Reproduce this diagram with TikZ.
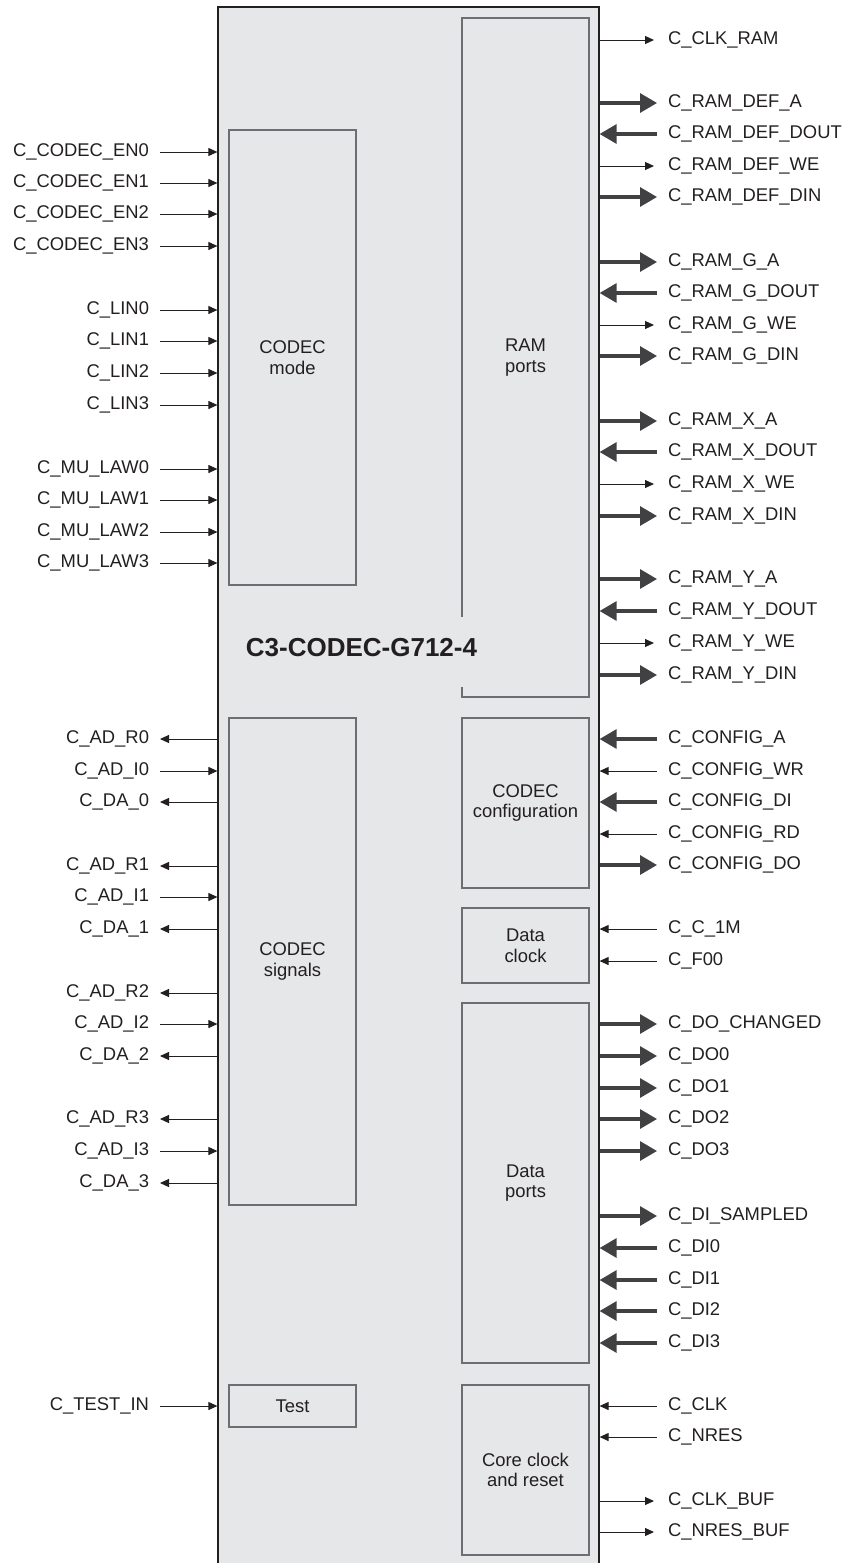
\documentclass[tikz,border=0pt]{standalone}
\usepackage{fontspec}
\setmainfont{Liberation Sans}
\usetikzlibrary{arrows.meta}
\definecolor{bg}{HTML}{E6E7E8}
\definecolor{bord}{HTML}{6D6E71}
\definecolor{ink}{HTML}{231F20}
\definecolor{thk}{HTML}{414042}
\begin{document}
\begin{tikzpicture}[x=0.75pt,y=-0.75pt,
  lbl/.style={inner sep=0pt, outer sep=0pt, text height=0.716em, text depth=0pt,
    font=\fontsize{13.8}{15.5}\selectfont, text=ink},
  blk/.style={draw=bord, line width=1.1pt, fill=bg, align=center, inner sep=0pt,
    minimum width=95.25pt, font=\fontsize{13.8}{15.5}\selectfont, text=ink},
  sigthin/.style={draw=ink, line width=0.75pt},
  sigthick/.style={draw=thk, line width=2.4pt},
  smalltip/.tip={Triangle[length=6.75pt,width=6pt]},
  bigtip/.tip={Triangle[length=12.75pt,width=14.25pt]},
  R-to/.style={sigthin, -smalltip, shorten >=2.25pt},
  R-ti/.style={sigthin, smalltip-},
  R-Bo/.style={sigthick, -bigtip},
  R-Bi/.style={sigthick, bigtip-},
  L-i/.style={sigthin, smalltip-},
  L-o/.style={sigthin, -smalltip},
]
\useasboundingbox (0,0) rectangle (848,1563);
\clip (0,0) rectangle (848,1563);

% outer chip box (bottom edge lies outside the picture)
\node[draw=ink, line width=0.9pt, fill=bg, inner sep=0pt,
      minimum width=285.75pt, minimum height=1187.25pt] (chip) at (408.5,798.5) {};

% inner blocks
\node[blk, minimum height=341.25pt] (mode) at (292.5,357.5) {CODEC\\mode};
\node[blk, minimum height=509.25pt] (ram) at (525.5,357.5) {RAM\\ports};
\node[blk, minimum height=365.25pt] (sig) at (292.5,961.5) {CODEC\\signals};
\node[blk, minimum height=127.5pt] (cfg) at (525.5,803) {CODEC\\configuration};
\node[blk, minimum height=56.25pt] (dclk) at (525.5,945.5) {Data\\clock};
\node[blk, minimum height=270pt] (dport) at (525.5,1183) {Data\\ports};
\node[blk, minimum height=31.5pt] (test) at (292.5,1406) {Test};
\node[blk, minimum height=127.5pt] (core) at (525.5,1470) {Core clock\\and reset};

% title (covers part of the RAM block border)
\node[fill=bg, inner xsep=1.5pt, inner ysep=0pt, minimum height=52.5pt,
      text height=0.716em, text depth=0pt,
      font=\bfseries\fontsize{19.5}{21}\selectfont, text=ink] (title) at (361.5,652) {C3-CODEC-G712-4};

% right-side signals
\foreach \n/\y/\t/\k in {
  1/40/C\_CLK\_RAM/to,
  2/103/C\_RAM\_DEF\_A/Bo, 3/134/C\_RAM\_DEF\_DOUT/Bi, 4/166/C\_RAM\_DEF\_WE/to, 5/197/C\_RAM\_DEF\_DIN/Bo,
  6/262/C\_RAM\_G\_A/Bo, 7/293/C\_RAM\_G\_DOUT/Bi, 8/325/C\_RAM\_G\_WE/to, 9/356/C\_RAM\_G\_DIN/Bo,
  10/421/C\_RAM\_X\_A/Bo, 11/452/C\_RAM\_X\_DOUT/Bi, 12/484/C\_RAM\_X\_WE/to, 13/516/C\_RAM\_X\_DIN/Bo,
  14/579/C\_RAM\_Y\_A/Bo, 15/611/C\_RAM\_Y\_DOUT/Bi, 16/643/C\_RAM\_Y\_WE/to, 17/675/C\_RAM\_Y\_DIN/Bo,
  18/739/C\_CONFIG\_A/Bi, 19/771/C\_CONFIG\_WR/ti, 20/802/C\_CONFIG\_DI/Bi, 21/834/C\_CONFIG\_RD/ti, 22/865/C\_CONFIG\_DO/Bo,
  23/929/C\_C\_1M/ti, 24/961/C\_F00/ti,
  25/1024/C\_DO\_CHANGED/Bo, 26/1056/C\_DO0/Bo, 27/1088/C\_DO1/Bo, 28/1119/C\_DO2/Bo, 29/1151/C\_DO3/Bo,
  30/1216/C\_DI\_SAMPLED/Bo, 31/1248/C\_DI0/Bi, 32/1280/C\_DI1/Bi, 33/1311/C\_DI2/Bi, 34/1343/C\_DI3/Bi,
  35/1406/C\_CLK/ti, 36/1437/C\_NRES/ti, 37/1501/C\_CLK\_BUF/to, 38/1532/C\_NRES\_BUF/to}
{
  \node[lbl, anchor=west] (r\n) at (668,\y) {\t};
  \draw[R-\k] (chip.east |- r\n.west) -- ([xshift=-8.25pt]r\n.west);
}

% left-side signals
\foreach \n/\y/\t/\k in {
  1/152/C\_CODEC\_EN0/i, 2/183/C\_CODEC\_EN1/i, 3/214/C\_CODEC\_EN2/i, 4/246/C\_CODEC\_EN3/i,
  5/310/C\_LIN0/i, 6/341/C\_LIN1/i, 7/373/C\_LIN2/i, 8/405/C\_LIN3/i,
  9/469/C\_MU\_LAW0/i, 10/500/C\_MU\_LAW1/i, 11/532/C\_MU\_LAW2/i, 12/563/C\_MU\_LAW3/i,
  13/739/C\_AD\_R0/o, 14/771/C\_AD\_I0/i, 15/802/C\_DA\_0/o,
  16/866/C\_AD\_R1/o, 17/897/C\_AD\_I1/i, 18/929/C\_DA\_1/o,
  19/993/C\_AD\_R2/o, 20/1024/C\_AD\_I2/i, 21/1056/C\_DA\_2/o,
  22/1119/C\_AD\_R3/o, 23/1151/C\_AD\_I3/i, 24/1183/C\_DA\_3/o,
  25/1406/C\_TEST\_IN/i}
{
  \node[lbl, anchor=east] (l\n) at (149,\y) {\t};
  \draw[L-\k] (chip.west |- l\n.east) -- ([xshift=8.25pt]l\n.east);
}
\end{tikzpicture}
\end{document}
